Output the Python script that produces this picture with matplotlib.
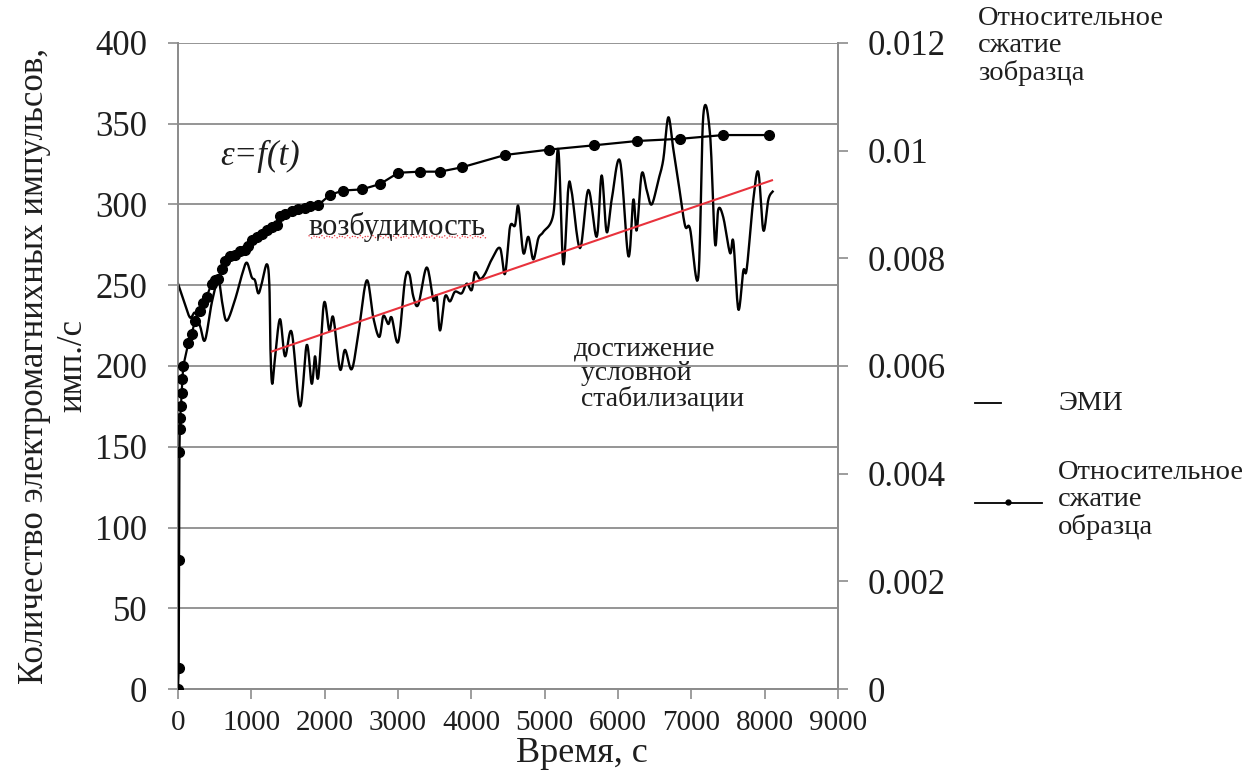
import numpy as np
import matplotlib
matplotlib.use("Agg")
import matplotlib.pyplot as plt
from matplotlib.lines import Line2D

plt.rcParams['font.family'] = ['Liberation Serif', 'DejaVu Serif']

# ---------------- data ----------------
# EMI (left axis), time in s, value in imp./s
emi_t = [0, 82, 164, 232, 300, 368, 464, 550, 600, 664, 777, 869, 937, 1005, 1050,
         1095, 1141, 1210, 1245, 1262, 1285, 1323, 1391, 1459, 1550, 1664, 1755,
         1823, 1868, 1913, 1991, 2063, 2118, 2209, 2277, 2369, 2459, 2573, 2663,
         2745, 2800, 2868, 2914, 3004, 3095, 3154, 3209, 3277, 3391, 3481, 3528,
         3573, 3641, 3709, 3777, 3868, 3937, 4005, 4050, 4118, 4186, 4278, 4391,
         4459, 4527, 4595, 4641, 4709, 4777, 4845, 4913, 4981, 5118, 5186, 5254,
         5322, 5368, 5482, 5595, 5709, 5777, 5845, 5914, 6027, 6141, 6209, 6255,
         6323, 6391, 6459, 6550, 6618, 6686, 6755, 6823, 6914, 6982, 7095, 7163,
         7254, 7323, 7368, 7436, 7527, 7573, 7641, 7709, 7755, 7845, 7914, 7982,
         8050, 8109]
emi_v = [251, 240, 230, 233, 225, 216, 240, 253, 240, 228, 241, 256, 264, 255, 253,
         245, 251, 263, 251, 208, 189, 205, 229, 206, 221, 175, 213,
         189, 206, 193, 239, 222, 230, 198, 210, 198, 220, 253, 230,
         218, 231, 226, 230, 215, 253, 257, 243, 238, 261, 241, 243,
         222, 243, 240, 246, 245, 251, 247, 258, 254, 257, 266, 273,
         257, 286, 287, 299, 270, 280, 266, 279, 283, 294, 334, 263,
         310, 308, 273, 309, 280, 318, 283, 303, 327, 268, 303, 284,
         319, 309, 300, 315, 328, 354, 334, 314, 287, 285, 255, 355,
         344, 276, 297, 292, 270, 277, 235, 259, 260, 303, 320, 284,
         303, 308]

# relative compression of the sample (right axis)
strain_t = [0, 10, 15, 20, 25, 30, 40, 50, 60, 72, 140, 187, 232, 300, 341, 391,
            459, 505, 545, 596, 641, 709, 777, 845, 914, 955, 1005, 1073, 1141,
            1210, 1278, 1346, 1391, 1459, 1550, 1641, 1732, 1800, 1913, 2073,
            2254, 2505, 2755, 3005, 3300, 3573, 3869, 4460, 5064, 5677, 6264,
            6846, 7436, 8063]
strain_v = [0.0, 0.00039, 0.0024, 0.00441, 0.00483, 0.00504, 0.00525, 0.00549,
            0.00576, 0.0060, 0.00642, 0.0066, 0.00684, 0.00702, 0.00717, 0.00729,
            0.00753, 0.00759, 0.00762, 0.0078, 0.00795, 0.00804, 0.00807, 0.00813,
            0.00816, 0.00822, 0.00834, 0.0084, 0.00846, 0.00852, 0.00858, 0.00861,
            0.00879, 0.00882, 0.00888, 0.00891, 0.00894, 0.00897, 0.00899, 0.00918,
            0.00926, 0.00928, 0.00938, 0.00959, 0.00961, 0.00961, 0.00969, 0.00992,
            0.01002, 0.0101, 0.01018, 0.01022, 0.01029, 0.01029]

# red trend line of EMI
trend_t = [1280, 8100]
trend_v = [209, 315]

x_ticks = [0, 1000, 2000, 3000, 4000, 5000, 6000, 7000, 8000, 9000]
y_ticks = [0, 50, 100, 150, 200, 250, 300, 350, 400]
y2_ticks = [0, 0.002, 0.004, 0.006, 0.008, 0.01, 0.012]
y2_labels = ["0", "0.002", "0.004", "0.006", "0.008", "0.01", "0.012"]


def smooth(xs, ys, xr, yr, n=12):
    """Catmull-Rom smoothing (like Excel 'smoothed line') in normalised space."""
    P = np.column_stack([np.asarray(xs, float) / xr, np.asarray(ys, float) / yr])
    P = np.vstack([P[0], P, P[-1]])
    out = []
    s = np.linspace(0, 1, n, endpoint=False)[:, None]
    for i in range(1, len(P) - 2):
        p0, p1, p2, p3 = P[i - 1], P[i], P[i + 1], P[i + 2]
        c = 0.5 * ((2 * p1) + (-p0 + p2) * s + (2 * p0 - 5 * p1 + 4 * p2 - p3) * s ** 2
                   + (-p0 + 3 * p1 - 3 * p2 + p3) * s ** 3)
        out.append(c)
    out.append(P[-2][None, :])
    C = np.vstack(out)
    return C[:, 0] * xr, C[:, 1] * yr


fig = plt.figure(figsize=(12.6, 7.8), dpi=100)
ax = fig.add_axes([178 / 1260, 1 - 689 / 780, 660 / 1260, 646 / 780])
ax2 = ax.twinx()

grey = '#8c8c8c'
txt = '#1e1e1e'
ax.set_xlim(0, 9000)
ax.set_ylim(0, 400)
ax2.set_ylim(0, 0.012)
ax.set_yticks(y_ticks)
ax.set_xticks(x_ticks)
ax2.set_yticks(y2_ticks)
ax2.set_yticklabels(y2_labels)

for yv in y_ticks:
    ax.axhline(yv, color=grey, lw=1.3, zorder=0)

# EMI
sx, sy = smooth(emi_t, emi_v, 9000, 400 * 660 / 646)
ax.plot(sx, sy, color='black', lw=1.7, zorder=3)
# trend
ax.plot(trend_t, trend_v, color='#e8323c', lw=1.5, zorder=4)
# strain
ax2.plot(strain_t, strain_v, color='black', lw=1.6, marker='o', ms=7, zorder=5)

for a in (ax, ax2):
    a.spines['top'].set_visible(False)
    for s in ('left', 'right', 'bottom'):
        a.spines[s].set_color(grey)
        a.spines[s].set_linewidth(1.3)
    a.tick_params(colors=grey, width=1.2, length=7, labelcolor=txt)
ax.tick_params(axis='x', pad=8, labelsize=21)
ax.tick_params(axis='y', pad=15, labelsize=25)
ax2.tick_params(axis='y', pad=14, labelsize=25)

ax.set_xlabel("Время, с", fontsize=26, color=txt)
ax.xaxis.set_label_coords(0.612, -0.074)
ax.set_ylabel("Количество электромагнихных импульсов,\nимп./с", fontsize=25,
              color=txt, linespacing=1.2)
ax.yaxis.set_label_coords(-0.135, 0.5)

# annotations
ax.text(580, 330, "ε=f(t)", fontsize=25, style='italic', ha='left', va='center',
        color=txt)
ax.text(1780, 286, "возбудимость", fontsize=22, ha='left', va='center', color=txt)
wx = np.linspace(1780, 4220, 160)
ax.plot(wx, 280.0 + 0.8 * np.sin(wx / 14.0), color='#e8323c', lw=0.9, ls=':', zorder=2)
ax.text(5400, 195, "достижение\n условной\n стабилизации", fontsize=20, ha='left',
        va='center', linespacing=1.0, color=txt)

# right-axis title
fig.text(978 / 1260, 1 - 6 / 780, "Относительное\nсжатие\nзобразца", fontsize=20.5,
         ha='left', va='top', linespacing=1.1, color=txt)

# legend
fig.add_artist(Line2D([975 / 1260, 1001 / 1260], [1 - 403 / 780] * 2, color='black', lw=1.3))
fig.text(1058 / 1260, 1 - 403 / 780, "ЭМИ", fontsize=20.5, ha='left', va='center', color=txt)
fig.add_artist(Line2D([975 / 1260, 1042 / 1260], [1 - 503 / 780] * 2, color='black', lw=1.3))
fig.add_artist(Line2D([1008 / 1260], [1 - 502 / 780], color='black', marker='o', ms=3.5))
fig.text(1058 / 1260, 1 - 500 / 780, "Относительное\nсжатие\nобразца", fontsize=20.5,
         ha='left', va='center', linespacing=1.1, color=txt)

fig.savefig("out.png", dpi=100, facecolor='white')
